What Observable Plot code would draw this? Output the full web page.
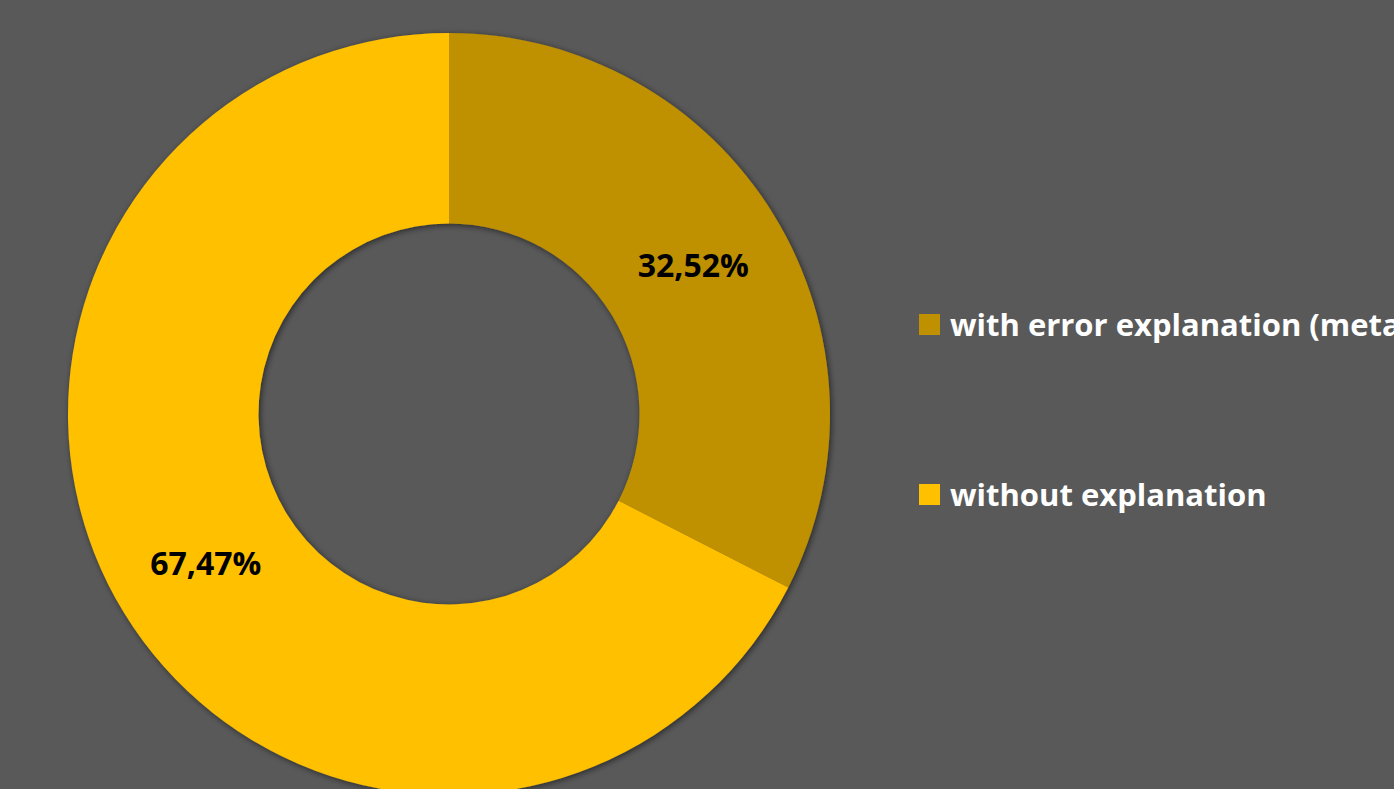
<!DOCTYPE html>
<html>
<head>
<meta charset="utf-8">
<script src="https://cdn.jsdelivr.net/npm/d3@7"></script>
<script src="https://cdn.jsdelivr.net/npm/@observablehq/plot@0.6"></script>
<style>
  html, body { margin: 0; padding: 0; background: #595959; overflow: hidden; }
  #wrap { position: relative; width: 1394px; height: 789px; overflow: hidden; background: #595959; }
  #chart { position: absolute; left: 0; top: 0; }
  .legend-item { position: absolute; left: 919px; white-space: nowrap; display: flex; align-items: center; }
  .swatch { width: 21px; height: 21px; margin-right: 10px; flex: none; }
  .legend-label { font-family: "Open Sans", sans-serif; font-weight: 700; font-size: 31px; color: #ffffff; line-height: 1; }
</style>
</head>
<body>
<div id="wrap">
  <div id="chart"></div>
  <div id="legend"></div>
</div>
<script>
// ---- data ----
const categories = ["with error explanation (metadata)", "without explanation"];
const values = [32.52, 67.47];
const labels = ["32,52%", "67,47%"];
const colors = ["#BF9000", "#FFC000"];

const slices = categories.map((c, i) => ({category: c, value: values[i], label: labels[i]}));
const pie = d3.pie().sort(null).value(d => d.value)(slices);
pie.forEach(p => {
  p.data.mid = (p.startAngle + p.endAngle) / 2;
});

const W = 900, H = 789;
const R = 381;      // outer radius in px
const CX = 449, CY = 414;
const innerRatio = 0.5;
const labelRadius = (1 + innerRatio) / 2;

const donut = (index, scales, values_, dimensions, context) => {
  const x = scales.x, y = scales.y;
  const cx = x(0), cy = y(0);
  const rOuter = x(1) - x(0);
  const arc = d3.arc().innerRadius(rOuter * innerRatio).outerRadius(rOuter);
  const g = d3.create("svg:g");
  const defs = g.append("defs");
  const f = defs.append("filter").attr("id", "shadow").attr("x", "-10%").attr("y", "-10%").attr("width", "120%").attr("height", "120%");
  f.append("feDropShadow").attr("dx", 1.5).attr("dy", 1.5).attr("stdDeviation", 3).attr("flood-color", "#000").attr("flood-opacity", 0.55);
  const gg = g.append("g").attr("transform", `translate(${cx},${cy})`).attr("filter", "url(#shadow)");
  gg.selectAll("path").data(pie).join("path")
    .attr("d", arc)
    .attr("fill", d => colors[categories.indexOf(d.data.category)]);
  return g.node();
};

const plot = Plot.plot({
  width: W,
  height: H,
  margin: 0,
  style: {background: "#595959", overflow: "visible"},
  x: {domain: [-CX / R, (W - CX) / R], axis: null},
  y: {domain: [-(H - CY) / R, CY / R], axis: null},
  marks: [
    donut,
    Plot.text(slices, {
      x: d => labelRadius * Math.sin(d.mid),
      y: d => labelRadius * Math.cos(d.mid),
      text: "label",
      fill: "#000",
      fontSize: 32,
      fontWeight: 700,
      fontFamily: "Open Sans",
      textAnchor: "middle",
      lineAnchor: "middle",
      dy: 1
    })
  ]
});
document.getElementById("chart").appendChild(plot);

// ---- legend ----
const legendTops = [309, 479];
const legend = document.getElementById("legend");
categories.forEach((c, i) => {
  const item = document.createElement("div");
  item.className = "legend-item";
  item.style.top = legendTops[i] + "px";
  const sw = document.createElement("div");
  sw.className = "swatch";
  sw.style.background = colors[i];
  const lab = document.createElement("span");
  lab.className = "legend-label";
  lab.textContent = c;
  item.appendChild(sw);
  item.appendChild(lab);
  legend.appendChild(item);
});
</script>
</body>
</html>
